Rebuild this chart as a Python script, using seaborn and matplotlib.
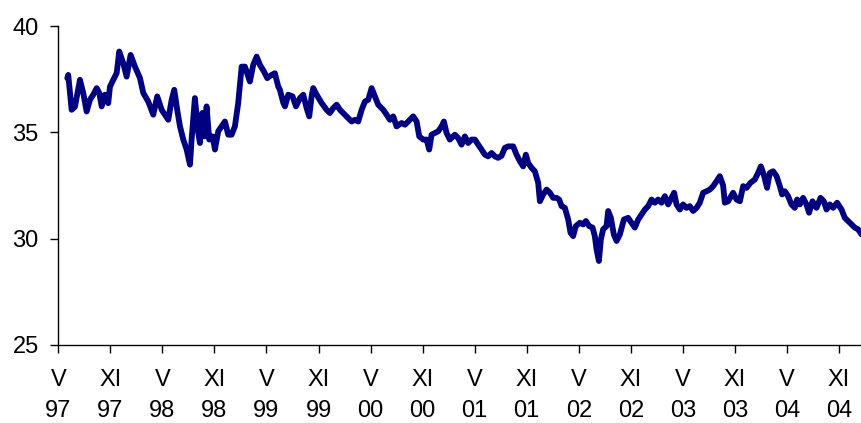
import numpy as np
import pandas as pd
import seaborn as sns
import matplotlib
matplotlib.use("Agg")
import matplotlib.pyplot as plt

# months since May 1997
months = [
    1.04, 1.15, 1.54, 1.92, 2.50, 2.88, 3.27, 3.65, 4.03, 4.43, 4.73, 5.00, 5.38, 5.76, 5.96,
    6.34, 6.73, 7.03, 7.49, 7.88, 8.34, 8.84, 9.42, 9.80, 10.37, 10.95, 11.41, 11.92, 12.68,
    13.07, 13.37, 13.71, 14.03, 14.41, 14.80, 15.18, 15.37, 15.75, 16.14, 16.33, 16.60, 16.83,
    17.10, 17.40, 17.79, 18.06, 18.44, 18.83, 19.21, 19.59, 19.98, 20.36, 20.74, 21.14, 21.52,
    22.09, 22.47, 22.87, 23.25, 23.71, 24.09, 24.59, 24.97, 25.36, 25.55, 25.93, 26.13, 26.51,
    27.01, 27.40, 27.86, 28.24, 28.63, 28.93, 29.20, 29.39, 29.78, 30.36, 30.93, 31.31, 31.69,
    32.09, 32.47, 33.04, 33.42, 33.81, 34.19, 34.58, 34.97, 35.35, 35.73, 36.12, 36.50, 36.88,
    37.46, 37.85, 38.23, 38.61, 39.00, 39.58, 39.96, 40.34, 40.91, 41.31, 41.61, 42.07, 42.46,
    42.76, 43.03, 43.41, 43.80, 44.19, 44.45, 44.76, 45.14, 45.72, 46.10, 46.49, 46.87, 47.25,
    47.64, 48.03, 48.41, 48.80, 49.18, 49.56, 49.95, 50.33, 50.71, 51.10, 51.48, 51.86, 52.44,
    52.83, 53.21, 53.59, 53.90, 54.17, 54.56, 54.94, 55.32, 55.52, 55.90, 56.29, 56.67, 57.05,
    57.44, 57.74, 58.02, 58.40, 58.78, 59.05, 59.35, 59.66, 60.13, 60.51, 60.82, 61.20, 61.59,
    61.85, 62.05, 62.32, 62.55, 62.81, 63.20, 63.39, 63.70, 64.04, 64.36, 64.74, 65.20, 65.69,
    66.08, 66.46, 66.85, 67.24, 67.62, 68.00, 68.39, 68.77, 69.15, 69.54, 69.92, 70.30, 70.69,
    70.99, 71.27, 71.65, 72.03, 72.42, 72.80, 73.18, 73.58, 73.95, 74.34, 74.73, 75.11, 75.49,
    75.88, 76.26, 76.64, 76.84, 77.22, 77.79, 78.19, 78.57, 78.95, 79.34, 79.80, 80.29, 80.67,
    80.99, 81.33, 81.71, 82.02, 82.40, 82.80, 83.18, 83.44, 83.75, 84.13, 84.52, 84.90, 85.17,
    85.48, 85.86, 86.25, 86.55, 86.94, 87.41, 87.87, 88.25, 88.56, 88.94, 89.32, 89.78, 90.29,
    90.67, 91.05, 91.44, 91.82, 92.20, 92.59,
]
values = [
    37.55, 37.70, 36.06, 36.20, 37.47, 36.85, 35.98, 36.53, 36.77, 37.08, 36.85, 36.22, 36.77, 36.37, 37.15,
    37.47, 37.78, 38.80, 38.25, 37.62, 38.64, 38.09, 37.55, 36.85, 36.45, 35.83, 36.69, 36.06, 35.59,
    36.53, 37.00, 36.06, 35.28, 34.66, 34.19, 33.48, 34.66, 36.61, 34.97, 34.50, 35.91, 34.81,
    36.22, 34.66, 34.81, 34.19, 35.05, 35.28, 35.51, 34.89, 34.89, 35.28, 36.37, 38.09, 38.09,
    37.39, 38.17, 38.56, 38.17, 37.86, 37.55, 37.70, 37.78, 37.15, 37.00, 36.40, 36.22, 36.77,
    36.69, 36.22, 36.61, 36.77, 36.14, 35.75, 36.69, 37.08, 36.77, 36.38, 36.06, 35.91, 36.14,
    36.30, 36.06, 35.83, 35.67, 35.51, 35.59, 35.51, 36.06, 36.45, 36.53, 37.08, 36.69, 36.30,
    36.06, 35.83, 35.59, 35.75, 35.28, 35.44, 35.36, 35.51, 35.75, 35.51, 34.81, 34.66, 34.66,
    34.19, 34.89, 34.97, 35.05, 35.28, 35.51, 34.97, 34.66, 34.89, 34.73, 34.42, 34.81, 34.50,
    34.66, 34.66, 34.42, 34.19, 33.95, 33.87, 34.03, 33.87, 33.80, 33.90, 34.27, 34.34, 34.34,
    33.95, 33.64, 33.40, 33.95, 33.56, 33.33, 33.17, 32.63, 31.76, 32.08, 32.31, 32.16, 31.92,
    31.92, 31.84, 31.53, 31.45, 30.90, 30.28, 30.12, 30.59, 30.75, 30.67, 30.83, 30.59, 30.52,
    30.12, 29.50, 28.95, 29.97, 30.44, 30.59, 31.30, 30.98, 30.20, 29.89, 30.20, 30.90, 30.98,
    30.75, 30.52, 30.90, 31.14, 31.37, 31.53, 31.84, 31.69, 31.84, 31.69, 32.00, 31.61, 31.92,
    32.16, 31.61, 31.37, 31.61, 31.45, 31.53, 31.30, 31.45, 31.69, 32.16, 32.23, 32.31, 32.47,
    32.70, 32.94, 32.50, 31.69, 31.76, 32.16, 31.84, 31.76, 32.47, 32.39, 32.63, 32.78, 33.09,
    33.40, 33.01, 32.39, 33.09, 33.17, 32.94, 32.47, 32.08, 32.23, 32.00, 31.61, 31.45, 31.84,
    31.61, 31.92, 31.61, 31.22, 31.76, 31.45, 31.92, 31.76, 31.37, 31.61, 31.45, 31.69, 31.37,
    30.98, 30.83, 30.67, 30.52, 30.44, 30.20,
]

tick_months = [0, 6, 12, 18, 24, 30, 36, 42, 48, 54, 60, 66, 72, 78, 84, 90]
tick_labels = ["V\n97", "XI\n97", "V\n98", "XI\n98", "V\n99", "XI\n99", "V\n00", "XI\n00",
               "V\n01", "XI\n01", "V\n02", "XI\n02", "V\n03", "XI\n03", "V\n04", "XI\n04"]

sns.set_style("ticks")
plt.rcParams["font.family"] = ["Liberation Sans", "DejaVu Sans"]

df = pd.DataFrame({"month": months, "value": values})

fig = plt.figure(figsize=(8.62, 4.23), dpi=100)
ax = fig.add_axes([0.0676, 0.1844, 0.9324, 0.7541])
sns.lineplot(data=df, x="month", y="value", color="#000080", linewidth=4.2, ax=ax)

ax.set_xlim(0, 92.65)
ax.set_ylim(25, 40)
ax.set_yticks([25, 30, 35, 40])
ax.set_xticks(tick_months)
ax.set_xticklabels(tick_labels, linespacing=1.5)
ax.set_xlabel("")
ax.set_ylabel("")
ax.tick_params(axis="both", labelsize=17, length=6, width=1, colors="black")
ax.tick_params(axis="x", pad=11.5)
ax.tick_params(axis="y", pad=8)
for s in ["top", "right"]:
    ax.spines[s].set_visible(False)
for s in ["left", "bottom"]:
    ax.spines[s].set_linewidth(1)
    ax.spines[s].set_color("black")

fig.savefig("out.png", dpi=100)
